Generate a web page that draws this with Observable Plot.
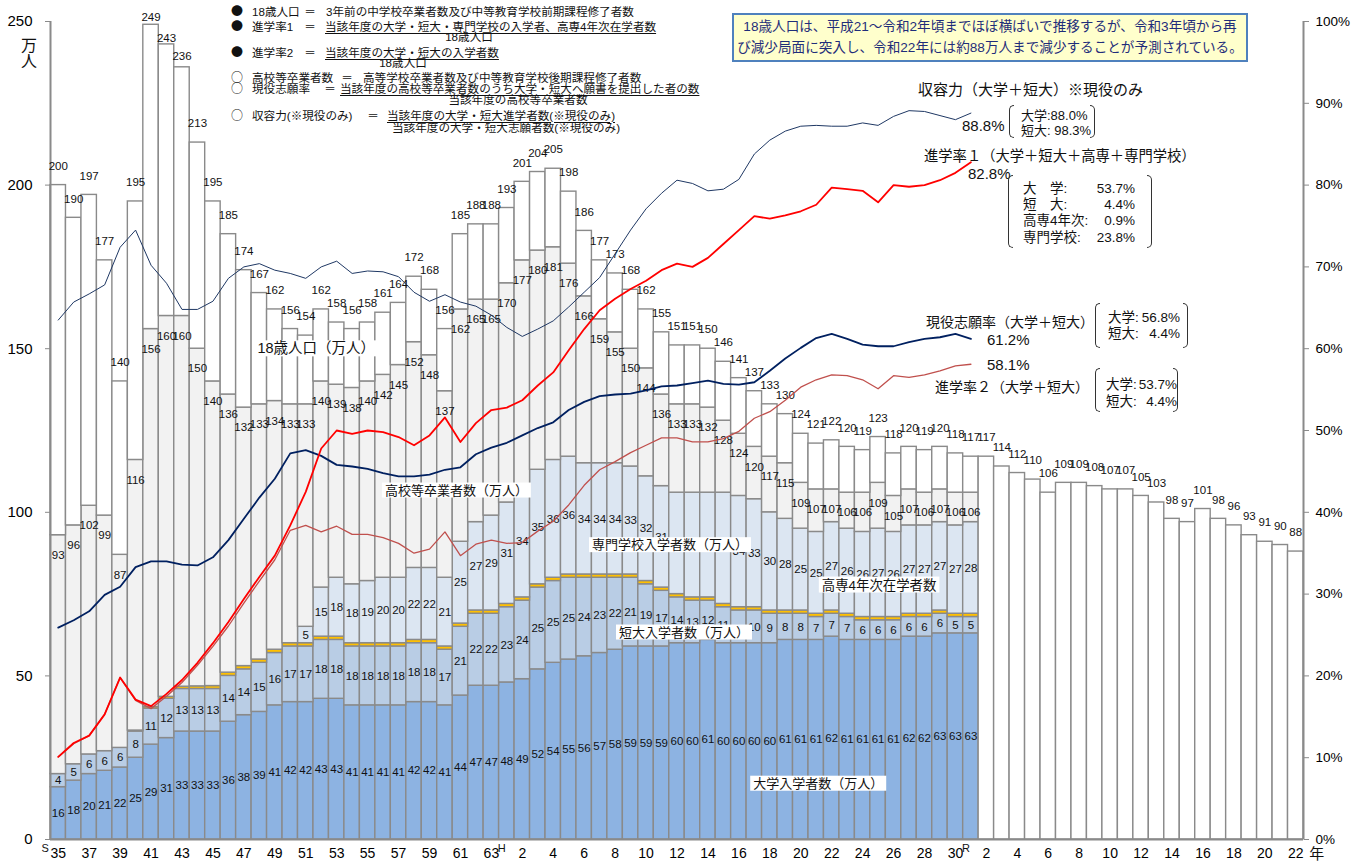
<!DOCTYPE html>
<html><head><meta charset="utf-8">
<script src="https://cdn.jsdelivr.net/npm/d3@7"></script>
<script src="https://cdn.jsdelivr.net/npm/@observablehq/plot@0.6"></script>
<style>
body{margin:0;background:#fff;}
#wrap{position:relative;width:1362px;height:863px;overflow:hidden;font-family:"Liberation Sans","Noto Sans CJK JP",sans-serif;}
#wrap svg{position:absolute;left:0;top:0;}
.t{position:absolute;white-space:nowrap;line-height:1;color:#111;}
.u{text-decoration:underline;text-underline-offset:2px;text-decoration-thickness:1px;}
.b{font-family:"Noto Sans CJK JP",sans-serif;}
</style></head><body><div id="wrap"></div>
<script>
const years = [1960,1961,1962,1963,1964,1965,1966,1967,1968,1969,
1970,1971,1972,1973,1974,1975,1976,1977,1978,1979,
1980,1981,1982,1983,1984,1985,1986,1987,1988,1989,
1990,1991,1992,1993,1994,1995,1996,1997,1998,1999,
2000,2001,2002,2003,2004,2005,2006,2007,2008,2009,
2010,2011,2012,2013,2014,2015,2016,2017,2018,2019,
2020,2021,2022,2023,2024,2025,2026,2027,2028,2029,
2030,2031,2032,2033,2034,2035,2036,2037,2038,2039,
2040];
const pop18 = [200,190,197,177,140,195,249,243,236,213,
195,185,174,167,162,156,154,162,158,156,
158,161,164,172,168,156,185,188,188,193,
201,204,205,198,186,177,173,168,162,155,
151,151,150,146,141,137,133,130,124,121,
122,120,119,123,118,120,119,120,118,117,
117,114,112,110,106,109,109,108,107,107,
105,103,98,97,101,98,96,93,91,90,
88];
const hsGrad = [93,96,102,99,87,116,156,160,160,150,
140,136,132,133,134,133,133,140,139,138,
140,142,145,152,148,137,162,165,165,170,
177,180,181,176,166,159,155,150,144,136,
133,133,132,128,124,120,117,115,109,107,
107,106,106,109,105,107,106,107,106,106];
const univ = [16,18,20,21,22,25,29,31,33,33,
33,36,38,39,41,42,42,43,43,41,
41,41,41,42,42,41,44,47,47,48,
49,52,54,55,56,57,58,59,59,59,
60,60,61,60,60,60,60,61,61,61,
62,61,61,61,61,62,62,63,63,63];
const juniorCol = [4,5,6,6,6,8,11,12,13,13,
13,14,14,15,16,17,17,18,18,18,
18,18,18,18,18,17,21,22,22,23,
24,25,25,25,24,23,22,21,19,17,
14,13,12,11,10,10,9,8,8,7,
7,7,6,6,6,6,6,6,5,5];
const kosen4 = [0,0,0,0,0,0.3,0.5,0.6,0.7,0.8,
0.9,1,1,1,1,1,1,1,1,1,
1,1,1,1,1,1,1,1,1,1,
1,1,1,1,1,1,1,1,1,1,
1,1,1,1,1,1,1,1,1,1,
1,1,1,1,1,1,1,1,1,1];
const senmon = [0,0,0,0,0,0,0,0,0,0,
0,0,0,0,0,0,5,15,18,18,
19,20,20,22,22,21,25,27,29,31,
34,35,36,36,34,34,34,33,32,31,
31,32,32,34,34,33,30,28,25,25,
27,26,26,27,26,27,27,27,27,28];
const capacityRate = [63.5,65.7,66.7,67.8,72.4,74.5,70.2,68.0,64.8,64.8,
65.8,68.6,70.0,70.4,69.6,69.2,68.6,70.0,70.7,69.2,
69.5,69.4,68.8,66.9,65.8,66.6,65.7,65.2,64.1,62.6,
61.5,62.4,63.4,65.1,66.9,68.7,71.6,74.5,77.1,79.0,
80.6,80.2,79.3,79.5,80.7,83.8,85.5,86.6,87.2,87.3,
87.2,87.2,87.6,87.3,88.4,89.1,89.0,88.5,88.0,88.8];
const advRate1 = [10.1,11.8,12.7,15.3,19.8,17.1,16.3,17.8,19.5,21.6,
24.0,26.6,29.4,32.1,34.7,38.4,42.5,47.8,50.0,49.6,
50.0,49.8,49.2,48.2,49.4,51.6,48.6,50.9,52.5,52.8,
53.7,55.5,57.1,59.8,62.4,64.7,66.1,67.3,68.3,69.6,
70.4,70.0,71.1,72.8,74.5,76.2,75.9,76.3,76.8,77.6,
79.7,79.5,79.3,77.9,80.0,79.8,80.0,80.6,81.5,82.8];
const applyRate = [25.9,26.8,27.9,29.9,30.9,33.3,34.0,34.0,33.6,33.5,
34.5,36.6,39.2,41.8,44.1,47.2,47.6,46.9,45.8,45.6,
45.3,44.8,44.4,44.4,44.6,45.2,45.5,47.1,47.9,48.5,
49.4,50.3,51.0,52.5,53.5,54.2,54.4,54.5,54.9,55.4,
55.5,55.8,56.1,55.7,55.6,55.9,57.3,58.8,60.1,61.3,
61.8,61.2,60.5,60.3,60.3,60.8,61.2,61.4,61.8,61.2];
const advRate2 = [10.1,11.7,12.7,15.3,19.8,17.0,16.0,17.5,19.2,21.3,
23.6,26.1,28.9,31.6,34.2,37.8,38.4,37.6,38.3,37.3,
37.3,36.9,36.2,35.0,35.5,37.6,34.7,36.1,36.6,36.2,
36.3,37.7,38.9,40.9,43.3,45.2,46.2,47.3,48.2,49.1,
49.1,48.6,48.6,49.0,49.9,51.5,52.3,53.7,55.3,56.2,
56.8,56.7,56.2,55.1,56.7,56.5,56.8,57.3,57.9,58.1];
const tickYears = [1960,1962,1964,1966,1968,1970,1972,1974,1976,1978,1980,1982,1984,1986,1988,
1990,1992,1994,1996,1998,2000,2002,2004,2006,2008,2010,2012,2014,2016,2018,
2020,2022,2024,2026,2028,2030,2032,2034,2036,2038,2040];
const tickLabels = ["35","37","39","41","43","45","47","49","51","53","55","57","59","61","63",
"2","4","6","8","10","12","14","16","18","20","22","24","26","28","30",
"2","4","6","8","10","12","14","16","18","20","22"];
const pctTicks = [0,10,20,30,40,50,60,70,80,90,100];

// ---- build tables ----
const rec = univ.map((u,i)=>{
  const c1 = u, c2 = c1 + juniorCol[i], c3 = c2 + kosen4[i], c4 = c3 + senmon[i];
  return {year: years[i], u, j: juniorCol[i], k: kosen4[i], s: senmon[i], hs: hsGrad[i], pop: pop18[i],
    c1, c2, c3, c4, cap: capacityRate[i], r1: advRate1[i], ap: applyRate[i], r2: advRate2[i]};
});
const allPop = years.map((year,i)=>({year, pop: pop18[i]}));
const future = allPop.slice(rec.length);
const PCT = 2.5; // 100% == 250 on the shared vertical scale

// labels that sit fully under the series-name boxes in the reference
const coveredSenmon = new Set([2000,2001,2002,2003]);
const coveredJunior = new Set([2004]);

const font = '"Liberation Sans","Noto Sans CJK JP",sans-serif';
const X1 = d=>d.year-0.5, X2 = d=>d.year+0.5;
const bar = {x1:X1, x2:X2, inset:0, stroke:"#8a8a8a", strokeWidth:1.4};
const lab = {fontSize:11.5, fill:"#111"};
const boxTexts = new Set();
const boxLab = (year, y, text, dx, fs) => { boxTexts.add(text); return Plot.text([{year, y, text}], {x:"year", y:"y", text:"text", dx, fontSize:fs, fill:"#111"}); };

const bigPop = new Map([[1966,-7],[1967,-6],[1968,-11]]);

const chart = Plot.plot({
  width:1362, height:863,
  marginLeft:50, marginRight:59, marginTop:21, marginBottom:24,
  style:{fontFamily:font, background:"transparent", overflow:"visible"},
  x:{domain:[1959.5,2040.5]},
  y:{domain:[0,250]},
  marks:[
    Plot.rectY(rec, {...bar, y1:0, y2:"c1", fill:"#8db3e2"}),
    Plot.rectY(rec, {...bar, y1:"c1", y2:"c2", fill:"#b9cde5"}),
    Plot.rectY(rec.filter(d=>d.k>0), {...bar, y1:"c2", y2:"c3", fill:"#ffc000"}),
    Plot.rectY(rec.filter(d=>d.s>0), {...bar, y1:"c3", y2:"c4", fill:"#dce6f2"}),
    Plot.rectY(rec, {...bar, y1:"c4", y2:"hs", fill:"#f2f2f2"}),
    Plot.rectY(rec, {...bar, y1:"hs", y2:"pop", fill:"#ffffff"}),
    Plot.rectY(future, {...bar, y1:0, y2:"pop", fill:"#ffffff"}),
    Plot.ruleX([1959.5, 2040.5], {y1:0, y2:250, stroke:"#8a8a8a", strokeWidth:2}),
    Plot.ruleY([0], {x1:1959.5, x2:2040.5, stroke:"#8a8a8a", strokeWidth:2}),
    Plot.axisY({ticks:[0,50,100,150,200,250], tickSize:5, tickPadding:13, fontSize:15, label:null, stroke:"#8a8a8a"}),
    Plot.axisY({anchor:"right", ticks:pctTicks.map(p=>p*PCT), tickFormat:d=>Math.round(d/PCT)+"%", tickSize:5, tickPadding:7, fontSize:13.5, label:null, stroke:"#8a8a8a"}),
    Plot.axisX({ticks:tickYears, tickFormat:d=>tickLabels[tickYears.indexOf(d)], tickSize:0, tickPadding:9, fontSize:14, label:null}),
    Plot.text([{year:1960,t:"S"}], {x:"year", y:()=>0, text:"t", dx:-13, dy:9, fontSize:11, fill:"#111"}),
    Plot.text([{year:1989,t:"H"},{year:2019,t:"R"}], {x:"year", y:()=>0, text:"t", dx:-5, dy:9, fontSize:11, fill:"#111"}),
    Plot.text([{year:2040,t:"年"}], {x:"year", y:()=>0, text:"t", dx:21, dy:15, fontSize:15, fill:"#111"}),
    // data labels
    Plot.text(rec, {x:"year", y:d=>d.u/2, text:"u", ...lab}),
    Plot.text(rec.filter(d=>!coveredJunior.has(d.year)), {x:"year", y:d=>d.c1+d.j/2, text:"j", ...lab}),
    Plot.text(rec.filter(d=>d.s>0 && !coveredSenmon.has(d.year)), {x:"year", y:d=>d.c3+d.s/2, text:"s", ...lab}),
    Plot.text(rec, {x:"year", y:"hs", text:"hs", dy:20, ...lab}),
    Plot.text(allPop.filter(d=>!bigPop.has(d.year)), {x:"year", y:"pop", text:"pop", dy:-19, ...lab}),
    Plot.text(allPop.filter(d=>d.year===1966), {x:"year", y:"pop", text:"pop", dy:-7, ...lab}),
    Plot.text(allPop.filter(d=>d.year===1967), {x:"year", y:"pop", text:"pop", dy:-6, ...lab}),
    Plot.text(allPop.filter(d=>d.year===1968), {x:"year", y:"pop", text:"pop", dy:-11, ...lab}),
    // lines
    Plot.line(rec, {x:"year", y:d=>d.cap*PCT, stroke:"#1f3864", strokeWidth:1}),
    Plot.line(rec, {x:"year", y:d=>d.r2*PCT, stroke:"#c0504d", strokeWidth:1.3}),
    Plot.line(rec, {x:"year", y:d=>d.ap*PCT, stroke:"#002060", strokeWidth:1.8}),
    Plot.line(rec, {x:"year", y:d=>d.r1*PCT, stroke:"#ff0000", strokeWidth:1.8}),
    // series name labels
    boxLab(1977, 150, "18歳人口（万人）", -5, 14.5),
    boxLab(1986, 106.7, "高校等卒業者数（万人）", -4, 13),
    boxLab(2000, 90, "専門学校入学者数（万人）", -7, 13),
    boxLab(2013, 77.7, "高専4年次在学者数", 1, 13.4),
    boxLab(2000, 63.3, "短大入学者数（万人）", 7, 13),
    boxLab(2009, 17.1, "大学入学者数（万人）", 2, 13)
  ]
});
chart.style.maxWidth = "none";
const wrap = document.getElementById("wrap");
wrap.appendChild(chart);

// white boxes behind series name labels
const NS = "http://www.w3.org/2000/svg";
Array.from(chart.querySelectorAll("text")).filter(t=>boxTexts.has(t.textContent)).forEach(t=>{
  const b = t.getBBox();
  const r = document.createElementNS(NS, "rect");
  r.setAttribute("x", b.x-3); r.setAttribute("y", b.y);
  r.setAttribute("width", b.width+6); r.setAttribute("height", b.height);
  r.setAttribute("fill", "#ffffff");
  const tr = t.getAttribute("transform");
  if (tr) r.setAttribute("transform", tr);
  t.parentNode.insertBefore(r, t);
});

// ---- HTML overlays: legend, note box, line annotations ----
function put(txt, x, y, o={}) {
  const el = document.createElement("div");
  el.className = "t" + (o.u ? " u" : "") + (o.b ? " b" : "");
  const fs = o.fs || 11.6;
  el.style.fontSize = fs + "px";
  el.style.top = (y - 0.55*fs) + "px";
  if (o.anchor === "middle") { el.style.left = x + "px"; el.style.transform = "translateX(-50%)"; }
  else if (o.anchor === "end") { el.style.right = (1362 - x) + "px"; }
  else el.style.left = x + "px";
  if (o.color) el.style.color = o.color;
  el.textContent = txt;
  wrap.appendChild(el);
}
function bracket(x, y, w, h) {
  ["l","r"].forEach(side=>{
    const el = document.createElement("div");
    el.style.cssText = `position:absolute;top:${y}px;height:${h}px;width:5px;border:1.3px solid #333;box-sizing:border-box;` +
      (side==="l" ? `left:${x}px;border-right:none;border-radius:5px 0 0 5px;` : `left:${x+w-5}px;border-left:none;border-radius:0 5px 5px 0;`);
    wrap.appendChild(el);
  });
}
// vertical unit
put("万", 29, 47, {fs:16, anchor:"middle"});
put("人", 29, 63, {fs:16, anchor:"middle"});

// legend
const L = 252, B = 237;
const bul = (c, y) => put(c, B, y, {anchor:"middle", b:true, fs:12});
bul("●", 12); put("18歳人口", L, 12); put("＝", 310, 12, {anchor:"middle"});
put("3年前の中学校卒業者数及び中等教育学校前期課程修了者数", 326, 12);
bul("●", 27); put("進学率1", L, 27); put("＝", 310, 27, {anchor:"middle"});
put("当該年度の大学・短大・専門学校の入学者、高専4年次在学者数", 325, 27, {u:true});
put("18歳人口", 469, 37, {anchor:"middle"});
bul("●", 53); put("進学率2", L, 53); put("＝", 310, 53, {anchor:"middle"});
put("当該年度の大学・短大の入学者数", 325, 53, {u:true});
put("18歳人口", 403, 63, {anchor:"middle"});
bul("○", 78); put("高校等卒業者数", L, 78); put("＝", 347, 78, {anchor:"middle"});
put("高等学校卒業者数及び中等教育学校後期課程修了者数", 363, 78);
bul("○", 89); put("現役志願率", L, 89); put("＝", 330, 89, {anchor:"middle"});
put("当該年度の高校等卒業者数のうち大学・短大へ願書を提出した者の数", 340, 89, {u:true});
put("当該年度の高校等卒業者数", 518, 100, {anchor:"middle"});
bul("○", 116); put("収容力(※現役のみ)", L, 116); put("＝", 373, 116, {anchor:"middle"});
put("当該年度の大学・短大進学者数(※現役のみ)", 387, 116, {u:true});
put("当該年度の大学・短大志願者数(※現役のみ)", 392, 128);

// note box
const box = document.createElement("div");
box.style.cssText = "position:absolute;left:732px;top:13px;width:516px;height:49px;box-sizing:border-box;border:2px solid #4f81bd;background:#ffffcc;color:#1f2d7a;font-size:13.6px;line-height:21px;text-align:center;padding-top:1px;white-space:nowrap;";
box.innerHTML = "18歳人口は、平成21～令和2年頃までほぼ横ばいで推移するが、令和3年頃から再<br>び減少局面に突入し、令和22年には約88万人まで減少することが予測されている。";
wrap.appendChild(box);

// line annotations
put("収容力（大学＋短大）※現役のみ", 918, 90, {fs:15});
put("88.8%", 962, 126, {fs:15});
bracket(1009, 105, 86, 33);
put("大学:88.0%", 1021, 116, {fs:13}); put("短大: 98.3%", 1021, 131, {fs:13});

put("進学率１（大学＋短大＋高専＋専門学校）", 924, 157, {fs:14.3});
put("82.8%", 968, 174, {fs:15});
bracket(1008, 175, 144, 73);
[["大　学:","53.7%",189],["短　大:","4.4%",205],["高専4年次:","0.9%",221],["専門学校:","23.8%",238]].forEach(([a,b,y])=>{
  put(a, 1023, y, {fs:13.5}); put(b, 1135, y, {fs:13.5, anchor:"end"});
});

put("現役志願率（大学＋短大）", 926, 323, {fs:14});
put("61.2%", 987, 340, {fs:15});
bracket(1095, 303, 93, 45);
put("大学:", 1108, 318, {fs:13.5}); put("56.8%", 1180, 318, {fs:13.5, anchor:"end"});
put("短大:", 1108, 334, {fs:13.5}); put("4.4%", 1180, 334, {fs:13.5, anchor:"end"});

put("58.1%", 987, 365, {fs:15});
put("進学率２（大学＋短大）", 935, 388, {fs:14});
bracket(1095, 368, 83, 44);
put("大学:", 1106, 385, {fs:13.5}); put("53.7%", 1177, 385, {fs:13.5, anchor:"end"});
put("短大:", 1106, 402, {fs:13.5}); put("4.4%", 1177, 402, {fs:13.5, anchor:"end"});
</script></body></html>
